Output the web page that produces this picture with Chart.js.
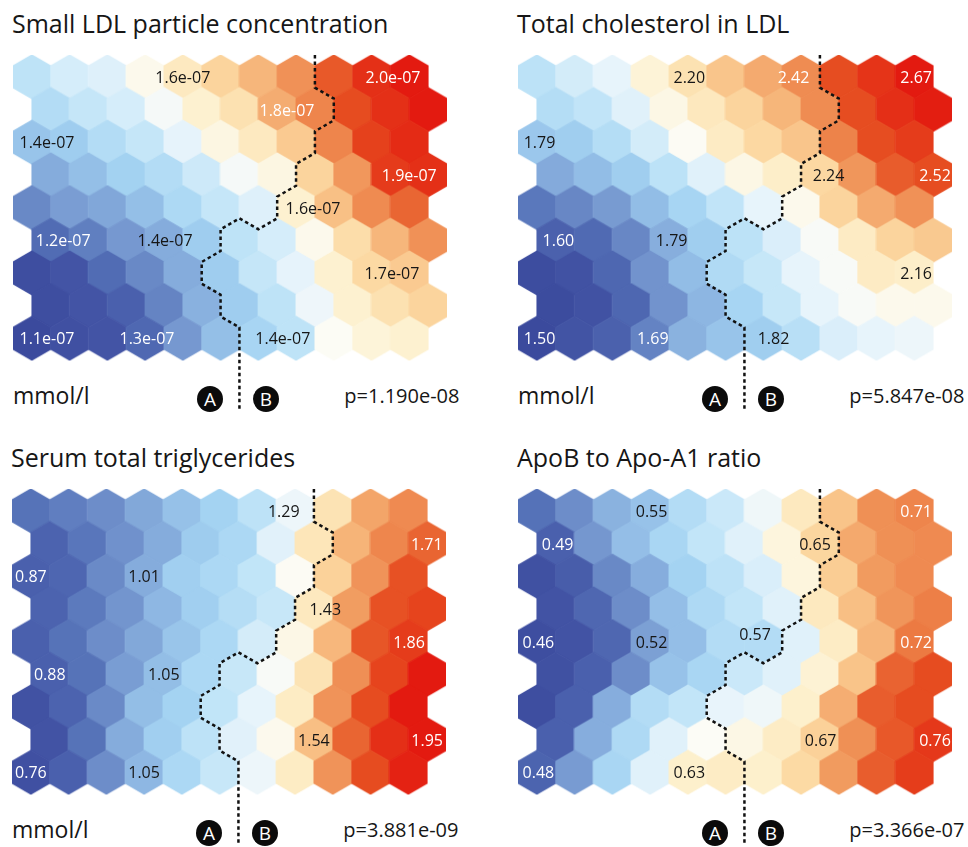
<!DOCTYPE html>
<html>
<head>
<meta charset="utf-8">
<script src="https://cdn.jsdelivr.net/npm/chart.js@4.4.1/dist/chart.umd.min.js"></script>
<style>
  html, body { margin:0; padding:0; background:#fff; width:968px; height:847px; overflow:hidden;
    font-family:"Open Sans", "Noto Sans", sans-serif; color:#161616; }
  canvas { position:absolute; }
  .txt { position:absolute; white-space:nowrap; }
  .badge { position:absolute; width:26px; height:26px; border-radius:50%; background:#0b0b0b; color:#fff;
    font-size:19px; line-height:26px; text-align:center; }
</style>
</head>
<body>
<script>
// ---------------- DATA ----------------
// SOM hexagonal grid: 9 rows x 11 columns (odd rows shifted half a cell right)
const SMALL_LDL_SCALE = 1e-7;   // values below are in units of 1e-7 mmol/l
const smallLdlValues = [
  [1.48,1.51,1.52,1.57,1.62,1.67,1.73,1.80,1.89,1.96,2.00],
  [1.46,1.49,1.51,1.55,1.60,1.64,1.75,1.82,1.91,1.96,2.00],
  [1.40,1.42,1.46,1.49,1.53,1.58,1.62,1.69,1.82,1.93,1.97],
  [1.35,1.39,1.43,1.46,1.50,1.55,1.58,1.67,1.79,1.94,1.96],
  [1.28,1.32,1.34,1.39,1.45,1.49,1.52,1.60,1.71,1.81,1.87],
  [1.22,1.26,1.31,1.35,1.42,1.48,1.51,1.57,1.65,1.73,1.80],
  [1.12,1.15,1.22,1.28,1.35,1.42,1.49,1.53,1.60,1.66,1.69],
  [1.12,1.15,1.19,1.27,1.36,1.42,1.48,1.54,1.60,1.64,1.67],
  [1.10,1.13,1.15,1.21,1.31,1.39,1.44,1.48,1.56,1.59,1.60]
];
const totalCholValues = [
  [1.99,2.03,2.06,2.14,2.20,2.28,2.35,2.42,2.55,2.61,2.67],
  [1.97,2.00,2.05,2.12,2.18,2.24,2.32,2.42,2.55,2.62,2.66],
  [1.90,1.92,1.97,2.03,2.10,2.17,2.23,2.28,2.44,2.55,2.59],
  [1.82,1.87,1.92,1.99,2.05,2.12,2.16,2.23,2.40,2.52,2.55],
  [1.69,1.73,1.78,1.87,1.94,2.00,2.06,2.11,2.24,2.35,2.41],
  [1.62,1.65,1.73,1.83,1.92,1.99,2.04,2.09,2.17,2.24,2.27],
  [1.52,1.55,1.64,1.76,1.87,1.96,2.01,2.06,2.09,2.17,2.16],
  [1.51,1.55,1.64,1.76,1.85,1.94,2.01,2.06,2.09,2.11,2.11],
  [1.50,1.56,1.62,1.72,1.84,1.89,1.92,1.98,2.04,2.06,2.07]
];
const triglycValues = [
  [0.94,0.97,1.01,1.08,1.15,1.20,1.26,1.34,1.47,1.64,1.70],
  [0.89,0.95,1.02,1.09,1.18,1.22,1.32,1.46,1.60,1.71,1.78],
  [0.88,0.90,1.00,1.09,1.19,1.22,1.27,1.37,1.52,1.68,1.82],
  [0.89,0.96,1.03,1.12,1.19,1.24,1.28,1.45,1.66,1.82,1.85],
  [0.88,0.94,1.01,1.08,1.16,1.22,1.30,1.39,1.59,1.81,1.87],
  [0.88,0.94,1.05,1.14,1.22,1.28,1.36,1.47,1.69,1.85,1.95],
  [0.81,0.89,1.00,1.14,1.20,1.27,1.33,1.44,1.68,1.83,1.95],
  [0.82,0.94,1.09,1.19,1.26,1.32,1.38,1.57,1.78,1.90,1.95],
  [0.80,0.88,1.01,1.12,1.22,1.28,1.34,1.44,1.68,1.83,1.93]
];
const apoRatioValues = [
  [0.505,0.523,0.547,0.559,0.580,0.592,0.607,0.634,0.661,0.694,0.700],
  [0.490,0.529,0.556,0.574,0.589,0.601,0.622,0.649,0.679,0.694,0.697],
  [0.472,0.487,0.520,0.544,0.571,0.586,0.598,0.622,0.655,0.688,0.697],
  [0.475,0.496,0.523,0.556,0.577,0.589,0.601,0.634,0.664,0.691,0.703],
  [0.466,0.475,0.496,0.535,0.556,0.580,0.580,0.601,0.631,0.670,0.706],
  [0.472,0.490,0.523,0.559,0.574,0.592,0.601,0.625,0.661,0.718,0.730],
  [0.466,0.490,0.544,0.580,0.589,0.604,0.607,0.628,0.676,0.721,0.730],
  [0.490,0.544,0.577,0.601,0.613,0.619,0.631,0.652,0.694,0.724,0.742],
  [0.493,0.532,0.574,0.601,0.628,0.631,0.628,0.646,0.688,0.721,0.739]
];

// colour domain (min, max) of each map
const smallLdlRange  = [1.10, 2.00];
const totalCholRange = [1.50, 2.67];
const triglycRange   = [0.76, 1.95];
const apoRatioRange  = [0.46, 0.76];

// first column of cluster B in each row (same clustering for all four maps)
const clusterBStart = [8, 8, 8, 7, 7, 5, 5, 5, 6];

// value labels printed on the maps
const smallLdlLabels = ['1.6e-07','2.0e-07','1.8e-07','1.4e-07','1.9e-07','1.6e-07','1.2e-07','1.4e-07','1.7e-07','1.1e-07','1.3e-07','1.4e-07'];
const totalCholLabels = ['2.20','2.42','2.67','1.79','2.24','2.52','1.60','1.79','2.16','1.50','1.69','1.82'];
const triglycLabels = ['1.29','1.71','0.87','1.01','1.43','1.86','0.88','1.05','1.54','1.95','0.76','1.05'];
const apoRatioLabels = ['0.55','0.71','0.49','0.65','0.46','0.52','0.57','0.72','0.67','0.76','0.48','0.63'];

const panelTitles = ['Small LDL particle concentration','Total cholesterol in LDL','Serum total triglycerides','ApoB to Apo-A1 ratio'];
const panelUnits  = ['mmol/l','mmol/l','mmol/l',''];
const panelPValues = ['p=1.190e-08','p=5.847e-08','p=3.881e-09','p=3.366e-07'];
const clusterNames = ['A','B'];

// ---------------- LAYOUT (positions of labels in grid units: column, row) ----------------
const smallLdlLabelPos  = [[4.0,0],[9.57,0],[6.76,1],[0.4,2],[10.0,3],[7.45,4],[0.83,5],[3.53,5],[9.54,6],[0.4,8],[3.05,8],[6.65,8]];
const totalCholLabelPos = [[4.04,0],[6.8,0],[10.05,0],[0.07,2],[7.73,3],[10.55,3],[0.57,5],[3.57,5],[10.05,6],[0.07,8],[3.07,8],[6.27,8]];
const triglycLabelPos   = [[6.7,0],[10.49,1],[0.0,2],[3.0,2],[7.8,3],[10.02,4],[0.5,5],[3.52,5],[7.5,7],[10.5,7],[0.0,8],[3.0,8]];
const apoRatioLabelPos  = [[3.04,0],[10.05,0],[0.55,1],[7.37,1],[0.04,4],[3.04,4],[5.78,3.78],[10.05,4],[7.52,7],[10.55,7],[0.04,8],[4.04,8]];

const panelOrigins = [[13,0],[518,0],[12,434],[518,434]];
const GRID_W = 434, GRID_H = 358, GRID_TOP = 55;

// ---------------- HELPERS ----------------
const HEX_R = 1/Math.sqrt(3);
const ROW_H = 1.5*HEX_R;
const LINE_END_Y = 8.85;

const PALETTE = [
  [0.00,'#3b4a9d'],[0.08,'#4659a8'],[0.15,'#5572b8'],[0.22,'#7192cc'],[0.30,'#8db6e2'],
  [0.37,'#a4d3f2'],[0.43,'#c2e5f8'],[0.48,'#e8f4fb'],[0.51,'#fcfcf6'],[0.56,'#fdf0cc'],
  [0.62,'#fcdaa4'],[0.68,'#f8bf84'],[0.75,'#f2a064'],[0.82,'#ec7a42'],[0.90,'#e64c20'],[1.00,'#e31a10']
];
function hexToRgb(h){ return [parseInt(h.slice(1,3),16),parseInt(h.slice(3,5),16),parseInt(h.slice(5,7),16)]; }
function colorAt(t){
  t = Math.max(0, Math.min(1, t));
  for (let i=1;i<PALETTE.length;i++){
    if (t <= PALETTE[i][0]){
      const [t0,c0] = PALETTE[i-1], [t1,c1] = PALETTE[i];
      const f = (t - t0)/(t1 - t0);
      const a = hexToRgb(c0), b = hexToRgb(c1);
      return 'rgb(' + a.map((v,k)=>Math.round(v+(b[k]-v)*f)).join(',') + ')';
    }
  }
  return PALETTE[PALETTE.length-1][1];
}

const hexCache = {};
function hexImage(color, R){
  const key = color + '|' + R.toFixed(2);
  if (hexCache[key]) return hexCache[key];
  const w = Math.ceil(Math.sqrt(3)*R) + 2, h = Math.ceil(2*R) + 2;
  const cv = document.createElement('canvas'); cv.width = w; cv.height = h;
  const g = cv.getContext('2d');
  g.fillStyle = color; g.beginPath();
  for (let k=0;k<6;k++){
    const a = Math.PI/180*(60*k - 90);
    const px = w/2 + (R+0.6)*Math.cos(a), py = h/2 + (R+0.6)*Math.sin(a);
    if (k) g.lineTo(px,py); else g.moveTo(px,py);
  }
  g.closePath(); g.fill();
  hexCache[key] = cv;
  return cv;
}

function cellPoints(values){
  const pts = [];
  values.forEach((row, r) => row.forEach((v, c) => pts.push({x: c + (r%2 ? 0.5 : 0), y: r*ROW_H, v})));
  return pts;
}

function boundaryPath(starts){
  const pts = [];
  const edgeX = r => starts[r] - 0.5 + (r%2 ? 0.5 : 0);
  pts.push({x: edgeX(0), y: -HEX_R});
  for (let r=0; r<starts.length; r++){
    const x = edgeX(r), yc = r*ROW_H;
    pts.push({x, y: yc - HEX_R/2});
    pts.push({x, y: yc + HEX_R/2});
    if (r < starts.length-1){
      const xn = edgeX(r+1), dir = xn > x ? 1 : -1;
      let cx = x, low = false;
      while (Math.abs(cx - xn) > 1e-6){
        cx += 0.5*dir; low = !low;
        pts.push({x: cx, y: low ? yc + HEX_R : yc + HEX_R/2});
      }
    }
  }
  pts.push({x: edgeX(starts.length-1), y: LINE_END_Y});
  return pts;
}

const cellLabelPlugin = {
  id: 'cellLabels',
  afterDatasetsDraw(chart, args, opts){
    const {ctx, scales:{x, y}} = chart;
    const [lo, hi] = opts.range;
    ctx.save();
    ctx.font = '16px "Open Sans"';
    ctx.textAlign = 'center';
    ctx.textBaseline = 'middle';
    opts.texts.forEach((txt, i) => {
      const [lc, lr] = opts.pos[i];
      const row = Math.min(8, Math.round(lr));
      const col = Math.max(0, Math.min(10, Math.round(lc - (row%2 ? 0.5 : 0))));
      const t = (opts.values[row][col] - lo)/(hi - lo);
      ctx.fillStyle = (t < 0.2 || t > 0.7) ? '#ffffff' : '#161616';
      ctx.fillText(txt, x.getPixelForValue(lc), y.getPixelForValue(lr*ROW_H) + 1.5);
    });
    ctx.restore();
  }
};

function addText(txt, x, baseline, size, align){
  const d = document.createElement('div');
  d.className = 'txt';
  d.textContent = txt;
  d.style.fontSize = size + 'px';
  d.style.lineHeight = size + 'px';
  d.style.top = (baseline - 0.888*size) + 'px';
  if (align === 'right') d.style.right = (968 - x) + 'px'; else d.style.left = x + 'px';
  document.body.appendChild(d);
}
function addBadge(letter, cx, cy){
  const d = document.createElement('div');
  d.className = 'badge';
  d.textContent = letter;
  d.style.left = (cx - 13) + 'px';
  d.style.top = (cy - 13) + 'px';
  document.body.appendChild(d);
}

const panelValues = [smallLdlValues, totalCholValues, triglycValues, apoRatioValues];
const panelRanges = [smallLdlRange, totalCholRange, triglycRange, apoRatioRange];
const panelLabels = [smallLdlLabels, totalCholLabels, triglycLabels, apoRatioLabels];
const panelLabelPos = [smallLdlLabelPos, totalCholLabelPos, triglycLabelPos, apoRatioLabelPos];

panelValues.forEach((values, p) => {
  const [ox, oy] = panelOrigins[p];
  const range = panelRanges[p];

  addText(panelTitles[p], ox - 1, oy + 33, 25, 'left');
  if (panelUnits[p]) addText(panelUnits[p], ox, oy + 404, 23, 'left');
  addText(panelPValues[p], ox + 446.5, oy + 404, 20, 'right');
  addBadge(clusterNames[0], ox + 197, oy + 399);
  addBadge(clusterNames[1], ox + 253, oy + 399);

  const cv = document.createElement('canvas');
  cv.width = GRID_W; cv.height = GRID_H;
  cv.style.left = ox + 'px'; cv.style.top = (oy + GRID_TOP) + 'px';
  document.body.appendChild(cv);

  const unitsPerPx = 11.5 / GRID_W;
  new Chart(cv, {
    type: 'scatter',
    data: {
      datasets: [
        {
          label: 'cluster boundary',
          data: boundaryPath(clusterBStart),
          showLine: true,
          borderColor: '#111111',
          borderWidth: 2.5,
          borderDash: [3.5, 3],
          borderCapStyle: 'butt',
          pointRadius: 0,
          tension: 0,
          clip: false
        },
        {
          label: panelTitles[p],
          data: cellPoints(values),
          pointRadius: 10,
          pointBorderWidth: 0,
          pointStyle: (ctx) => {
            const raw = ctx.raw;
            const sx = ctx.chart.scales && ctx.chart.scales.x;
            if (!raw || !sx) return 'circle';
            const R = Math.abs(sx.getPixelForValue(HEX_R) - sx.getPixelForValue(0));
            if (!isFinite(R) || R < 2) return 'circle';
            return hexImage(colorAt((raw.v - range[0])/(range[1] - range[0])), R);
          },
          clip: false
        }
      ]
    },
    options: {
      responsive: false,
      devicePixelRatio: 1,
      animation: false,
      events: [],
      layout: { padding: 0, autoPadding: false },
      scales: {
        x: { type: 'linear', display: false, min: -0.5, max: 11 },
        y: { type: 'linear', display: false, reverse: true, min: -HEX_R, max: -HEX_R + GRID_H*unitsPerPx }
      },
      plugins: {
        legend: { display: false },
        tooltip: { enabled: false },
        cellLabels: { texts: panelLabels[p], pos: panelLabelPos[p], values, range }
      }
    },
    plugins: [cellLabelPlugin]
  });
});
</script>
</body>
</html>
